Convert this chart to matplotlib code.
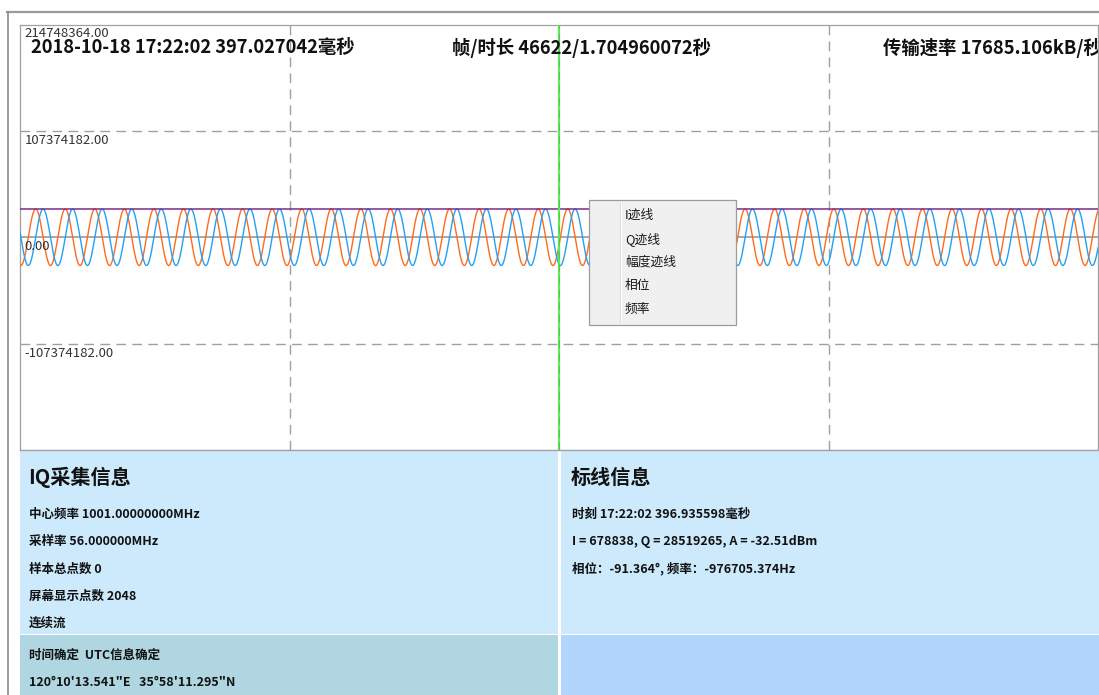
import numpy as np
import matplotlib.pyplot as plt
from matplotlib.patches import Rectangle

plt.rcParams['font.family'] = ['Noto Sans CJK SC', 'DejaVu Sans']

W, H = 1099, 695

# acquisition settings
center_mhz = 1001.0
sample_rate_hz = 56.0e6
total_points = 0
screen_points = 2048

# header readout
header_time = '2018-10-18 17:22:02 397.027042毫秒'
frame_count = 46622
frame_seconds = 1.704960072
rate_kb = 17685.106

# marker readout
marker_index = 1024
marker_time = '17:22:02 396.935598毫秒'
marker_i = 678838
marker_q = 28519265
marker_dbm = -32.51
marker_phase_deg = -91.364
marker_freq_hz = -976705.374

# tone on screen (period taken from the trace itself)
trace_freq_hz = -997.7e3
trace_start_deg = -79.0

full_scale = 214748364
y_levels = [full_scale, full_scale / 2, 0, -full_scale / 2]
x_grid = [512, 1536]

menu_items = ['I迹线', 'Q迹线', '幅度迹线', '相位', '频率']

gps_text = '120°10\'13.541"E   35°58\'11.295"N'
sync_text = '时间确定  UTC信息确定'

# build the IQ traces
n = np.arange(screen_points)
theta = 2 * np.pi * trace_freq_hz * n / sample_rate_hz + np.deg2rad(trace_start_deg)
amp = np.hypot(marker_i, marker_q)
i_trace = amp * np.cos(theta)
q_trace = amp * np.sin(theta)
a_trace = np.hypot(i_trace, q_trace)

fig = plt.figure(figsize=(W / 100, H / 100), dpi=100)
fig.patch.set_facecolor('white')

# plot area in pixels: x 20..1098, y 24.5..450
px_l, px_r, px_t, px_b = 20, 1098, 24.5, 450
ax = fig.add_axes([px_l / W, 1 - px_b / H, (px_r - px_l) / W, (px_b - px_t) / H])
ax.set_xlim(0, screen_points - 1)
ax.set_ylim(-full_scale, full_scale)
ax.set_xticks([])
ax.set_yticks([])
for s in ax.spines.values():
    s.set_color('#a0a0a0')
    s.set_linewidth(0.9)

dash = (0, (7, 4.5))
for y in y_levels[1:]:
    if y == 0:
        ax.axhline(y, color='#a8a8a8', lw=1.4, zorder=1)
    else:
        ax.axhline(y, color='#a0a0a0', lw=1.0, ls=dash, zorder=1)
for x in x_grid:
    ax.axvline(x, color='#a0a0a0', lw=1.0, ls=dash, zorder=1)

ax.plot(n, q_trace, color='#ff6a1c', lw=1.0, zorder=3)
ax.plot(n, i_trace, color='#23a0f5', lw=1.0, zorder=3)
ax.plot(n, a_trace, color='#7b2c86', lw=1.1, zorder=4)

ax.axvline(marker_index, color='#55ee55', lw=1.6, zorder=5)
ax.axvline(marker_index, color='#6a9a6a', lw=0.8, ls=dash, alpha=0.6, zorder=6)

for y in y_levels:
    ax.annotate(f'{y:.2f}', xy=(0, y), xytext=(3.4, -6.8), textcoords='offset points',
                fontsize=9.5, color='#333333', va='center', ha='left', zorder=7)

# overlay in pixel coordinates for panels, header and menu
ov = fig.add_axes([0, 0, 1, 1])
ov.set_xlim(0, W)
ov.set_ylim(H, 0)
ov.set_axis_off()

hdr = dict(fontsize=13.2, fontweight='bold', color='#111111', va='center',
           transform=ov.transData, clip_on=True, zorder=8)
ax.text(31, 47.5, header_time, **hdr)
ax.text(452, 47.5, f'帧/时长 {frame_count}/{frame_seconds:.9f}秒', **hdr)
ax.text(883, 47.5, f'传输速率 {rate_kb:.3f}kB/秒', **hdr)

# window frame
ov.plot([7, W], [12, 12], color='#9a9a9a', lw=1.6)
ov.plot([7.5, 7.5], [12, H], color='#8a8a8a', lw=1.2)

# info panels
ov.add_patch(Rectangle((px_l, 450), 557.5 - px_l, 184, facecolor='#cceafc', edgecolor='none'))
ov.add_patch(Rectangle((px_l, 635), 557.5 - px_l, H - 635, facecolor='#b0d7e1', edgecolor='none'))
ov.add_patch(Rectangle((561, 450), W - 561, 184, facecolor='#cceafc', edgecolor='none'))
ov.add_patch(Rectangle((561, 635), W - 561, H - 635, facecolor='#b2d5fc', edgecolor='none'))
ov.plot([px_l, px_r], [450, 450], color='#a0a0a0', lw=0.9)

title = dict(fontsize=14.5, fontweight='bold', color='#111111', va='center')
body = dict(fontsize=9, fontweight='bold', color='#111111', va='center')

ov.text(28, 477, 'IQ采集信息', **title)
left_lines = [
    f'中心频率 {center_mhz:.8f}MHz',
    f'采样率 {sample_rate_hz / 1e6:.6f}MHz',
    f'样本总点数 {total_points}',
    f'屏幕显示点数 {screen_points}',
    '连续流',
]
for k, s in enumerate(left_lines):
    ov.text(29, 514.5 + 27.2 * k, s, **body)
ov.text(29, 655, sync_text, **body)
ov.text(29, 682, gps_text, **body)

ov.text(571, 477, '标线信息', **title)
right_lines = [
    f'时刻 {marker_time}',
    f'I = {marker_i}, Q = {marker_q}, A = {marker_dbm:.2f}dBm',
    f'相位：{marker_phase_deg:.3f}°, 频率：{marker_freq_hz:.3f}Hz',
]
for k, s in enumerate(right_lines):
    ov.text(572, 514.5 + 27 * k, s, **body)

# context menu over the trace
ov.add_patch(Rectangle((589, 200), 147, 125, facecolor='#f0f0f0', edgecolor='#9c9c9c', lw=0.9, zorder=10))
ov.plot([620, 620], [203, 322], color='#dadada', lw=0.8, zorder=11)
ov.plot([621, 621], [203, 322], color='white', lw=0.8, zorder=11)
for k, s in enumerate(menu_items):
    ov.text(625, 215 + 23.6 * k, s, fontsize=9.2, color='#1a1a1a', va='center', zorder=12)

fig.savefig('out.png', dpi=100)
